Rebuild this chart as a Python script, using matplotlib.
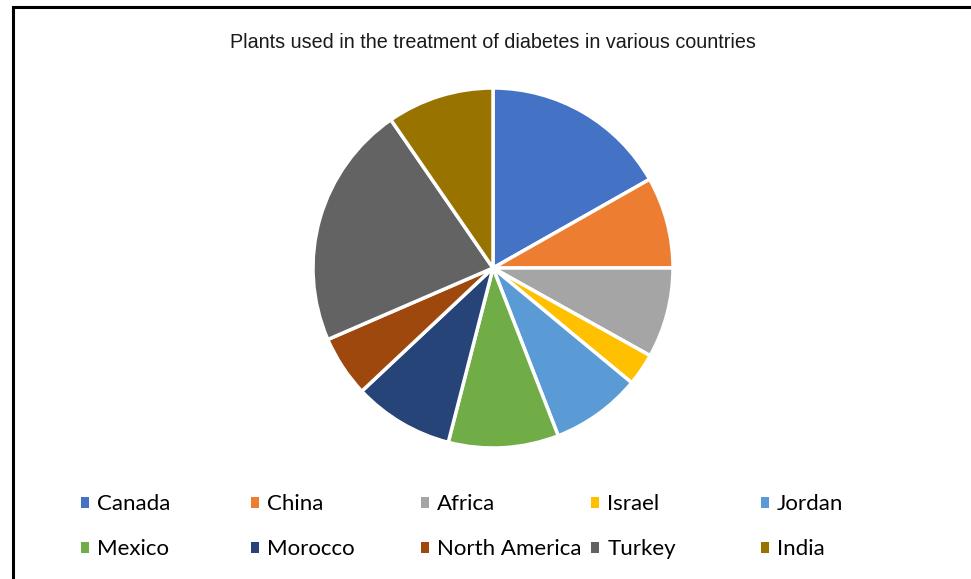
import matplotlib
matplotlib.use("Agg")
import matplotlib.pyplot as plt
from matplotlib.lines import Line2D

# Share of plants per country (percent)
countries = ["Canada", "China", "Africa", "Israel", "Jordan",
             "Mexico", "Morocco", "North America", "Turkey", "India"]
shares = [16.8, 8.2, 8.1, 2.9, 8.1, 9.9, 9.0, 5.5, 21.9, 9.6]
colors = ["#4472C4", "#ED7D31", "#A5A5A5", "#FFC000", "#5B9BD5",
          "#70AD47", "#264478", "#9E480E", "#636363", "#997300"]

W, H = 971, 579
fig = plt.figure(figsize=(W / 100, H / 100), dpi=100)

# frame lines (only left and top visible in the crop)
fig.add_artist(Line2D([13 / W, 13 / W], [0, 1 - 7 / H], color="black", lw=2.2))
fig.add_artist(Line2D([13 / W, 1], [1 - 7 / H, 1 - 7 / H], color="black", lw=2.2))

fig.text(493 / W, 1 - 43 / H, "Plants used in the treatment of diabetes in various countries",
         ha="center", va="center", fontsize=14.2, family="Liberation Sans", color="#1a1a1a")

# pie axes: center (493, 268), radius 180 px
cx, cy, r = 493, 268, 180
ax = fig.add_axes([(cx - r) / W, 1 - (cy + r) / H, 2 * r / W, 2 * r / H])
wedges, _ = ax.pie(shares, colors=colors, startangle=90, counterclock=False,
                   wedgeprops=dict(edgecolor="white", linewidth=2.5))
ax.set_xlim(-1, 1)
ax.set_ylim(-1, 1)
ax.set_aspect("equal")
ax.axis("off")

# legend: 5 fixed-width columns, 2 rows (Excel style)
col_x = [81, 251, 421, 591, 761]
row_y = [504, 549]
for i, (w, name) in enumerate(zip(wedges, countries)):
    x = col_x[i % 5]
    y = row_y[i // 5]
    h = plt.Rectangle((0, 0), 1, 1, facecolor=w.get_facecolor(), edgecolor="none")
    fig.legend([h], [name], loc="center left", bbox_to_anchor=(x / W, 1 - y / H),
               frameon=False, borderpad=0, borderaxespad=0,
               handlelength=0.38, handleheight=0.38, handletextpad=0.35,
               prop=dict(family="Lato", size=16))

fig.savefig("out.png", dpi=100)
